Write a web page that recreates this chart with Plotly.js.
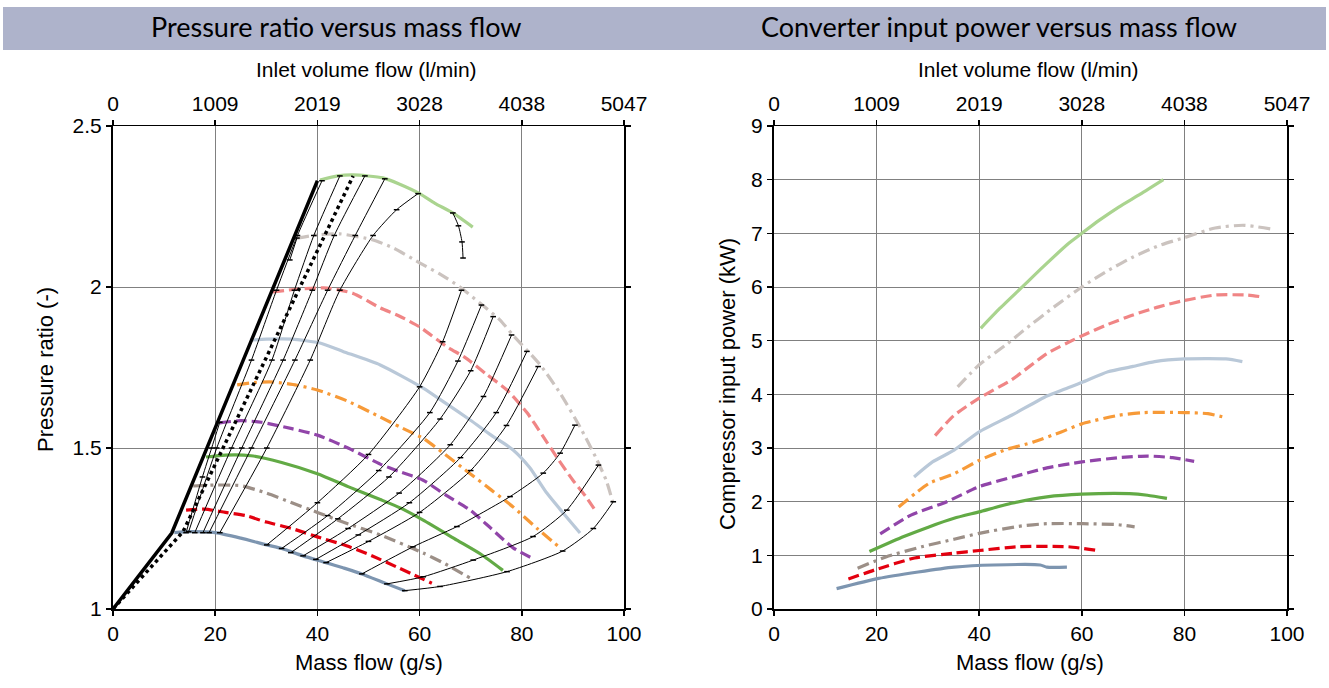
<!DOCTYPE html>
<html><head><meta charset="utf-8">
<script src="https://cdn.plot.ly/plotly-3.0.1.min.js"></script>
<style>html,body{margin:0;padding:0;background:#fff;}#chart{width:1329px;height:688px;}</style>
</head><body><div id="chart"></div>
<script>
// ---------- tick labels ----------
const massTicks = [0, 20, 40, 60, 80, 100];
const volumeTicks = [0, 1009, 2019, 3028, 4038, 5047];
const volumeTickText = ['0', '1009', '2019', '3028', '4038', '5047'];
const prTicks = [1, 1.5, 2, 2.5];
const prTickText = ['1', '1.5', '2', '2.5'];
const powerTicks = [0, 1, 2, 3, 4, 5, 6, 7, 8, 9];

// ---------- speed lines: pressure ratio vs mass flow (g/s) ----------
const spA_m  = [12, 15, 20, 25, 30.1, 33, 37.2, 41.7, 45, 48.7, 53.6, 57.1];
const spA_pr = [1.237, 1.24, 1.237, 1.22, 1.199, 1.188, 1.165, 1.144, 1.128, 1.109, 1.078, 1.057];
const spB_m  = [14.3, 18, 22, 26, 30, 35, 40, 45, 50, 56, 62.4];
const spB_pr = [1.307, 1.31, 1.30, 1.29, 1.27, 1.25, 1.224, 1.20, 1.17, 1.127, 1.08];
const spC_m  = [15.7, 20, 25, 30, 35, 40, 45, 52.3, 60.7, 65, 69.9];
const spC_pr = [1.382, 1.385, 1.383, 1.36, 1.33, 1.30, 1.27, 1.23, 1.174, 1.14, 1.096];
const spD_m  = [18.2, 22, 27, 33, 40, 46, 52.3, 56.2, 60.7, 67.3, 72, 76.3];
const spD_pr = [1.472, 1.478, 1.476, 1.455, 1.42, 1.38, 1.34, 1.314, 1.276, 1.214, 1.17, 1.12];
const spE_m  = [20.9, 25, 29, 35, 40, 46, 52.3, 56.2, 60.7, 65, 69.9, 74, 78.3, 82];
const spE_pr = [1.578, 1.585, 1.58, 1.56, 1.54, 1.50, 1.45, 1.426, 1.40, 1.355, 1.307, 1.25, 1.19, 1.158];
const spF_m  = [24.3, 28, 31.3, 36, 40, 46, 52.3, 56.2, 60.7, 65, 69.9, 74, 78.3, 83, 87.5];
const spF_pr = [1.696, 1.704, 1.705, 1.695, 1.68, 1.645, 1.596, 1.565, 1.53, 1.48, 1.42, 1.37, 1.317, 1.25, 1.19];
const spG_m  = [26.8, 30, 35, 40.5, 45, 52.3, 60.7, 65, 69.9, 74, 78.3, 81.5, 84.9, 88, 91.4];
const spG_pr = [1.835, 1.838, 1.838, 1.826, 1.80, 1.758, 1.686, 1.64, 1.587, 1.54, 1.494, 1.44, 1.36, 1.30, 1.236];
const spH_m  = [31.3, 36, 41.9, 47, 52.3, 56, 60, 65.4, 69, 73, 77.1, 81, 84, 86.9, 90, 92.5, 94.7];
const spH_pr = [1.985, 1.993, 1.997, 1.98, 1.935, 1.91, 1.876, 1.814, 1.78, 1.73, 1.68, 1.61, 1.54, 1.47, 1.40, 1.35, 1.298];
const spI_m  = [36, 40, 44.4, 50.9, 55, 60, 64, 67.9, 71.8, 75.7, 78.3, 83.6, 87.5, 91.4, 94.5, 96.5, 97.8];
const spI_pr = [2.152, 2.162, 2.165, 2.146, 2.12, 2.075, 2.04, 2.0, 1.95, 1.898, 1.85, 1.758, 1.67, 1.565, 1.47, 1.40, 1.332];
const spJ_m  = [40.5, 44, 47, 52.8, 56, 60, 63, 66.5, 70.4];
const spJ_pr = [2.332, 2.345, 2.348, 2.339, 2.32, 2.29, 2.26, 2.23, 2.186];

// surge line (solid) and control line (dotted)
const surge_m = [0, 11.5, 40];
const surge_pr = [1, 1.236, 2.33];
const ctrl_m = [0, 13.7, 47];
const ctrl_pr = [1, 1.24, 2.345];

// thin operating lines (with measurement ticks)
const opS1_m = [14.3, 17.5, 19.3, 20.9];             const opS1_pr = [1.237, 1.41, 1.5, 1.58];
const opS2_m = [14.8, 20.3, 27.1, 32.0, 36.1, 40.9]; const opS2_pr = [1.24, 1.5, 1.773, 1.99, 2.16, 2.33];
const opX_m  = [16.0, 23.2, 31.1, 35.5, 39.3, 44.4]; const opX_pr  = [1.237, 1.5, 1.773, 1.99, 2.16, 2.345];
const opY_m  = [17.6, 25.2, 33.3, 39.0, 43.3, 49.3]; const opY_pr  = [1.237, 1.5, 1.773, 1.99, 2.16, 2.345];
const opZ_m  = [18.8, 27.1, 35.6, 42.0, 47.4, 53.2]; const opZ_pr  = [1.237, 1.5, 1.773, 1.99, 2.16, 2.336];
const opW_m  = [20.9, 30.1, 38.6, 44.4, 50.9, 55.5, 59.7]; const opW_pr = [1.237, 1.5, 1.773, 1.99, 2.16, 2.24, 2.29];
const opSeg_m = [34.6, 36.0];                          const opSeg_pr = [2.084, 2.152];
const opHook_m = [66.5, 67.6, 68.3, 68.5];            const opHook_pr = [2.23, 2.19, 2.14, 2.09];
const opQ1_m = [30.1, 40, 50, 60, 64.5, 68.2];  const opQ1_pr = [1.199, 1.33, 1.48, 1.69, 1.83, 1.99];
const opQ2_m = [33.0, 42, 52, 62, 67.5, 72.1];  const opQ2_pr = [1.188, 1.29, 1.43, 1.61, 1.77, 1.944];
const opQ3_m = [34.8, 44, 54, 64, 70, 74.4];    const opQ3_pr = [1.175, 1.28, 1.41, 1.59, 1.74, 1.908];
const opQ4_m = [37.2, 46, 56, 66, 72.5, 78.0];  const opQ4_pr = [1.165, 1.25, 1.36, 1.51, 1.66, 1.851];
const opQ5_m = [39.7, 48, 58, 68, 75, 81.0];    const opQ5_pr = [1.154, 1.23, 1.33, 1.47, 1.61, 1.80];
const opQ6_m = [41.7, 50, 60, 70, 77, 83.2];    const opQ6_pr = [1.144, 1.21, 1.30, 1.43, 1.57, 1.753];
const opQ7_m = [48.7, 58.7, 67.3, 77.7, 84.2, 87.5, 90.4]; const opQ7_pr = [1.109, 1.193, 1.256, 1.349, 1.422, 1.484, 1.571];
const opQ8_m = [53.6, 60.7, 70.5, 82.2, 88.8, 95.0];       const opQ8_pr = [1.078, 1.10, 1.152, 1.225, 1.307, 1.447];
const opQ9_m = [57.1, 64, 77.1, 88, 94, 97.9];             const opQ9_pr = [1.057, 1.07, 1.116, 1.18, 1.25, 1.333];

// ---------- compressor input power (kW) vs mass flow (g/s) ----------
const pwA_m = [12.2, 20.4, 28.1, 35.1, 42.8, 51.9, 53.2, 57.1];
const pwA_kw = [0.38, 0.57, 0.69, 0.78, 0.82, 0.82, 0.78, 0.78];
const pwB_m = [14.5, 19.7, 27.4, 35.1, 40, 47.7, 57.4, 63.0];
const pwB_kw = [0.56, 0.73, 0.95, 1.04, 1.09, 1.16, 1.16, 1.09];
const pwC_m = [16.3, 21.8, 28.8, 35.1, 40, 47.7, 53.2, 60.2, 67.2, 70.3];
const pwC_kw = [0.76, 0.97, 1.16, 1.30, 1.41, 1.54, 1.59, 1.59, 1.57, 1.53];
const pwD_m = [18.6, 25.3, 30.2, 35.1, 40, 46.3, 53.2, 60, 69.3, 72.8, 76.6];
const pwD_kw = [1.07, 1.35, 1.53, 1.69, 1.81, 1.97, 2.09, 2.14, 2.15, 2.12, 2.06];
const pwE_m = [20.7, 26.7, 33.7, 40, 47.7, 53.2, 60, 67.2, 72.8, 77.7, 81.9];
const pwE_kw = [1.40, 1.75, 2.0, 2.28, 2.49, 2.63, 2.74, 2.82, 2.85, 2.82, 2.75];
const pwF_m = [24.3, 30.2, 35.1, 40, 44.9, 50.5, 56.0, 60, 67.2, 72.1, 80, 84.6, 87.9];
const pwF_kw = [1.90, 2.34, 2.52, 2.77, 2.96, 3.11, 3.30, 3.45, 3.61, 3.66, 3.66, 3.64, 3.57];
const pwG_m = [27.3, 30.9, 35.1, 40, 46.3, 53.2, 56.7, 60, 65.1, 70, 74.2, 80, 88.1, 91.3];
const pwG_kw = [2.46, 2.74, 2.96, 3.30, 3.61, 3.97, 4.10, 4.22, 4.42, 4.52, 4.61, 4.66, 4.66, 4.61];
const pwH_m = [31.4, 35, 40, 46.3, 53.2, 60, 65, 70, 75, 80, 86, 92.3, 94.8];
const pwH_kw = [3.23, 3.6, 3.93, 4.27, 4.76, 5.09, 5.3, 5.48, 5.63, 5.75, 5.85, 5.85, 5.82];
const pwI_m = [35.8, 40, 45.6, 48.4, 54.6, 60, 65, 70, 75, 80, 86, 91.6, 97.6];
const pwI_kw = [4.14, 4.55, 4.95, 5.17, 5.63, 6.0, 6.3, 6.56, 6.77, 6.92, 7.1, 7.15, 7.07];
const pwJ_m = [40.3, 44, 48.7, 52.5, 57.4, 60, 63.5, 67.2, 71.4, 75.9];
const pwJ_kw = [5.23, 5.6, 6.03, 6.38, 6.81, 7.0, 7.25, 7.49, 7.73, 8.0];

// ---------- styles ----------
const DASH = '11px,5px';
const DASHDOT = '12px,5px,3px,5px';
const speedStyles = [
  {color: '#7d95b0', dash: 'solid'},
  {color: '#e3000f', dash: DASH},
  {color: '#9c8f87', dash: DASHDOT},
  {color: '#62aa45', dash: 'solid'},
  {color: '#9145a9', dash: DASH},
  {color: '#f79a38', dash: DASHDOT},
  {color: '#b9c8d8', dash: 'solid'},
  {color: '#f08585', dash: DASH},
  {color: '#cbc3bf', dash: DASHDOT},
  {color: '#aad48f', dash: 'solid'}
];
const prSeries = [[spA_m, spA_pr], [spB_m, spB_pr], [spC_m, spC_pr], [spD_m, spD_pr], [spE_m, spE_pr],
                  [spF_m, spF_pr], [spG_m, spG_pr], [spH_m, spH_pr], [spI_m, spI_pr], [spJ_m, spJ_pr]];
const pwSeries = [[pwA_m, pwA_kw], [pwB_m, pwB_kw], [pwC_m, pwC_kw], [pwD_m, pwD_kw], [pwE_m, pwE_kw],
                  [pwF_m, pwF_kw], [pwG_m, pwG_kw], [pwH_m, pwH_kw], [pwI_m, pwI_kw], [pwJ_m, pwJ_kw]];
const opSeries = [[opS1_m, opS1_pr], [opS2_m, opS2_pr], [opX_m, opX_pr], [opY_m, opY_pr], [opZ_m, opZ_pr],
                  [opW_m, opW_pr], [opSeg_m, opSeg_pr], [opHook_m, opHook_pr],
                  [opQ1_m, opQ1_pr], [opQ2_m, opQ2_pr], [opQ3_m, opQ3_pr], [opQ4_m, opQ4_pr], [opQ5_m, opQ5_pr],
                  [opQ6_m, opQ6_pr], [opQ7_m, opQ7_pr], [opQ8_m, opQ8_pr], [opQ9_m, opQ9_pr]];

const traces = [];
prSeries.forEach((s, i) => traces.push({
  x: s[0], y: s[1], xaxis: 'x', yaxis: 'y', type: 'scatter', mode: 'lines', hoverinfo: 'skip',
  line: {color: speedStyles[i].color, dash: speedStyles[i].dash, width: 3.2, shape: 'spline', smoothing: 0.6}
}));
opSeries.forEach(s => traces.push({
  x: s[0], y: s[1], xaxis: 'x', yaxis: 'y', type: 'scatter', mode: 'lines+markers', hoverinfo: 'skip',
  line: {color: '#000', width: 1, shape: 'spline', smoothing: 0.6},
  marker: {symbol: 'line-ew', size: 4, color: '#000', line: {color: '#000', width: 1.5}}
}));
traces.push({x: surge_m, y: surge_pr, xaxis: 'x', yaxis: 'y', type: 'scatter', mode: 'lines', hoverinfo: 'skip',
  line: {color: '#000', width: 3.5}});
traces.push({x: ctrl_m, y: ctrl_pr, xaxis: 'x', yaxis: 'y', type: 'scatter', mode: 'lines', hoverinfo: 'skip',
  line: {color: '#000', width: 3.5, dash: 'dot'}});
// invisible helper trace to show the top axis
traces.push({x: [volumeTicks[0]], y: [1], xaxis: 'x2', yaxis: 'y', type: 'scatter', mode: 'markers',
  marker: {opacity: 0}, hoverinfo: 'skip'});

pwSeries.forEach((s, i) => traces.push({
  x: s[0], y: s[1], xaxis: 'x3', yaxis: 'y3', type: 'scatter', mode: 'lines', hoverinfo: 'skip',
  line: {color: speedStyles[i].color, dash: speedStyles[i].dash, width: 3.2, shape: 'spline', smoothing: 0.6}
}));
traces.push({x: [volumeTicks[0]], y: [0], xaxis: 'x4', yaxis: 'y3', type: 'scatter', mode: 'markers',
  marker: {opacity: 0}, hoverinfo: 'skip'});

const W = 1329, H = 688;
const px = v => v / W;
const py = v => (H - v) / H;
const tickFont = {family: 'Liberation Sans, Arial, sans-serif', size: 21, color: '#000'};
const titleFont = {family: 'Liberation Sans, Arial, sans-serif', size: 22, color: '#000'};
const headFont = {family: 'Lato, Open Sans, sans-serif', size: 27, color: '#000'};
const baseAxis = {
  showline: true, linecolor: '#000', linewidth: 2, ticks: 'outside', ticklen: 5, tickwidth: 1.5,
  tickcolor: '#000', tickfont: tickFont, zeroline: false, showgrid: true, gridcolor: '#808080', gridwidth: 1,
  fixedrange: true
};
const xDomL = [px(113), px(624)], xDomR = [px(774), px(1287)], yDom = [py(609), py(126)];
const ann = (text, x, y, font, angle) => ({text: text, x: px(x), y: py(y), xref: 'paper', yref: 'paper',
  xanchor: 'center', yanchor: 'middle', showarrow: false, font: font, textangle: angle || 0});

const layout = {
  width: W, height: H, margin: {l: 0, r: 0, t: 0, b: 0},
  paper_bgcolor: '#fff', plot_bgcolor: '#fff', showlegend: false,
  xaxis: Object.assign({}, baseAxis, {domain: xDomL, anchor: 'y', range: [0, 100], tickvals: massTicks}),
  yaxis: Object.assign({}, baseAxis, {domain: yDom, anchor: 'x', range: [1, 2.5], tickvals: prTicks,
    ticktext: prTickText, mirror: 'ticks'}),
  xaxis2: Object.assign({}, baseAxis, {overlaying: 'x', side: 'top', anchor: 'y', range: [0, 5047],
    tickvals: volumeTicks, ticktext: volumeTickText, showgrid: false, linewidth: 1.5}),
  xaxis3: Object.assign({}, baseAxis, {domain: xDomR, anchor: 'y3', range: [0, 100], tickvals: massTicks}),
  yaxis3: Object.assign({}, baseAxis, {domain: yDom, anchor: 'x3', range: [0, 9], tickvals: powerTicks,
    mirror: 'ticks'}),
  xaxis4: Object.assign({}, baseAxis, {overlaying: 'x3', side: 'top', anchor: 'y3', range: [0, 5047],
    tickvals: volumeTicks, ticktext: volumeTickText, showgrid: false, linewidth: 1.5}),
  shapes: [{type: 'rect', xref: 'paper', yref: 'paper', x0: px(3), x1: px(1326), y0: py(50), y1: py(7),
    fillcolor: '#aeb3cb', line: {width: 0}, layer: 'below'}],
  annotations: [
    ann('Pressure ratio versus mass flow', 336, 27, headFont),
    ann('Converter input power versus mass flow', 999, 27, headFont),
    ann('Inlet volume flow (l/min)', 366, 70, tickFont),
    ann('Inlet volume flow (l/min)', 1028, 70, tickFont),
    ann('Mass flow (g/s)', 369, 662, titleFont),
    ann('Mass flow (g/s)', 1030, 662, titleFont),
    ann('Pressure ratio (-)', 45, 370, titleFont, -90),
    ann('Compressor input power (kW)', 727, 384, titleFont, -90)
  ]
};

Plotly.newPlot('chart', traces, layout, {staticPlot: true, displayModeBar: false});
</script>
</body></html>
